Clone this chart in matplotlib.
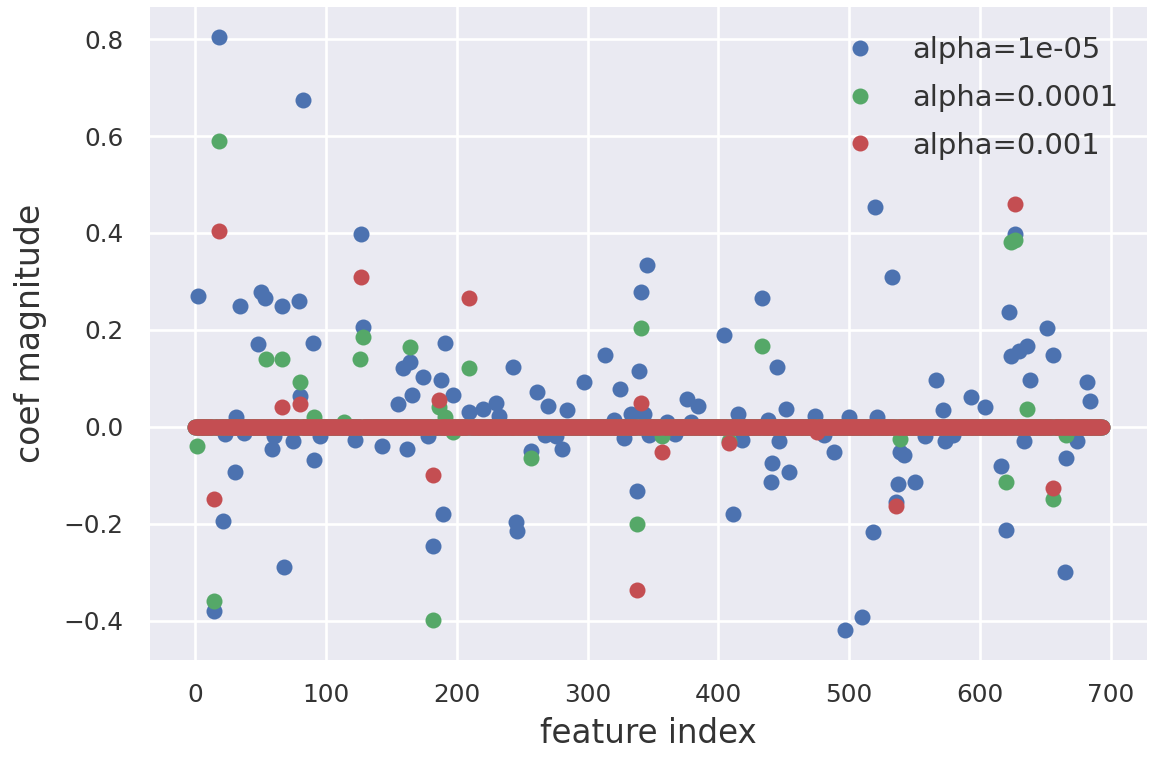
import numpy as np
import matplotlib
matplotlib.use("Agg")
import matplotlib.pyplot as plt

# number of features (coef_ length)
n_features = 694

# nonzero coefficients: index -> value
idx_1e5 = [2, 14, 18, 21, 23, 30, 31, 34, 37, 48, 50, 53, 59, 60, 66, 68, 75, 79, 80,
           82, 90, 91, 95, 122, 127, 128, 143, 155, 159, 162, 164, 166, 174, 178,
           182, 188, 189, 191, 197, 209, 220, 230, 232, 243, 245, 246, 257, 261,
           267, 270, 276, 280, 284, 297, 313, 320, 325, 328, 333, 338, 339, 341,
           343, 345, 347, 361, 367, 376, 379, 384, 404, 411, 415, 418, 433, 438,
           440, 441, 445, 446, 452, 454, 474, 481, 488, 497, 500, 510, 518, 520,
           521, 533, 536, 537, 539, 542, 550, 558, 566, 572, 573, 579, 593, 604,
           616, 620, 622, 624, 627, 630, 634, 636, 638, 651, 656, 665, 666, 674,
           682, 684]
val_1e5 = [0.27, -0.38, 0.805, -0.194, -0.015, -0.093, 0.02, 0.25, -0.012, 0.171,
           0.278, 0.266, -0.045, -0.02, 0.25, -0.29, -0.03, 0.26, 0.064,
           0.675, 0.173, -0.068, -0.02, -0.028, 0.398, 0.206, -0.039, 0.047, 0.122,
           -0.045, 0.134, 0.066, 0.103, -0.02,
           -0.247, 0.097, -0.18, 0.173, 0.066, 0.031, 0.036, 0.049, 0.022, 0.124,
           -0.196, -0.215, -0.049, 0.072,
           -0.018, 0.043, -0.02, -0.045, 0.035, 0.093, 0.148, 0.015, 0.078, -0.023,
           0.027, -0.132, 0.115, 0.278,
           0.027, 0.334, -0.018, 0.01, -0.015, 0.058, 0.01, 0.043, 0.19, -0.181,
           0.027, -0.027, 0.266, 0.015,
           -0.113, -0.074, 0.124, -0.029, 0.037, -0.093, 0.022, -0.018, -0.052,
           -0.42, 0.02, -0.392, -0.217, 0.453,
           0.02, 0.31, -0.155, -0.118, -0.052, -0.058, -0.113, -0.02, 0.097, 0.035,
           -0.029, -0.018, 0.062, 0.041,
           -0.08, -0.212, 0.236, 0.146, 0.398, 0.157, -0.029, 0.167, 0.097, 0.204,
           0.148, -0.299, -0.064, -0.029,
           0.093, 0.054]

idx_1e4 = [1, 14, 18, 54, 66, 80, 91, 114, 126, 128, 164, 182, 186, 191, 197, 209,
           257, 338, 341, 357, 408, 433, 539, 620, 624, 627, 636, 656, 666]
val_1e4 = [-0.039, -0.36, 0.59, 0.14, 0.14, 0.093, 0.02, 0.01, 0.14, 0.186, 0.165,
           -0.398, 0.04, 0.02, -0.01, 0.122,
           -0.064, -0.2, 0.204, -0.02, -0.03, 0.167, -0.025, -0.113, 0.381, 0.386,
           0.037, -0.15, -0.018]

idx_1e3 = [14, 18, 66, 80, 127, 182, 186, 209, 338, 341, 357, 408, 475, 536, 627, 656]
val_1e3 = [-0.15, 0.405, 0.041, 0.047, 0.31, -0.10, 0.056, 0.266, -0.336, 0.049,
           -0.052, -0.033, -0.01, -0.163, 0.46, -0.126]

alphas = ["1e-05", "0.0001", "0.001"]
colors = ["#4C72B0", "#55A868", "#C44E52"]

def make_coef(idx, vals):
    c = np.zeros(n_features)
    c[idx] = vals
    return c

coefs = [make_coef(idx_1e5, val_1e5), make_coef(idx_1e4, val_1e4),
         make_coef(idx_1e3, val_1e3)]

plt.rcParams['font.family'] = ['DejaVu Sans']

fig = plt.figure(figsize=(1154/192, 758/192), dpi=192)
ax = fig.add_axes([0.130, 0.1293, 0.8639, 0.8615])
ax.set_facecolor("#EAEAF2")
for s in ax.spines.values():
    s.set_visible(False)
ax.grid(True, color="white", linewidth=1.0)
ax.set_axisbelow(True)

for c, a, col in zip(coefs, alphas, colors):
    ax.plot(c, 'o', color=col, markersize=6, markeredgewidth=0, label="alpha=" + a)

ax.set_xticks(np.arange(0, 701, 100))
ax.set_yticks([-0.4, -0.2, 0.0, 0.2, 0.4, 0.6, 0.8])
ax.tick_params(length=0, labelsize=9.3, labelcolor="0.2")
ax.tick_params(axis='y', pad=10)
ax.tick_params(axis='x', pad=8.5)
ax.set_xlabel("feature index", fontsize=12.2, color="0.2", labelpad=4)
ax.set_ylabel("coef magnitude", fontsize=12.4, color="0.2", labelpad=6)
ax.legend(loc="upper right", frameon=False, numpoints=1, fontsize=10.9,
          borderaxespad=0.6, handletextpad=0.8, labelspacing=0.68,
          labelcolor="0.2")

fig.savefig("out.png", dpi=192)
